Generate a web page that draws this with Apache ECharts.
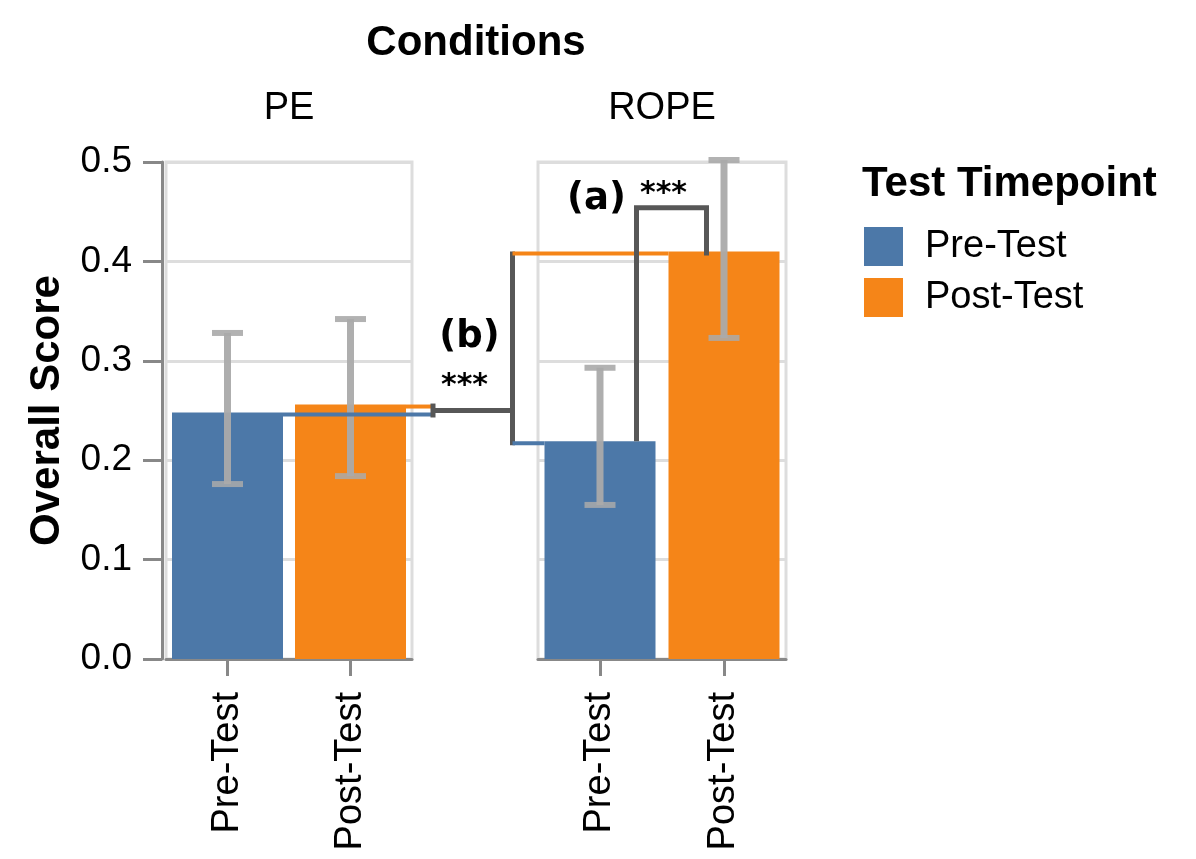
<!DOCTYPE html>
<html>
<head>
<meta charset="utf-8">
<script src="https://cdn.jsdelivr.net/npm/echarts@6/dist/echarts.min.js"></script>
<style>
html,body{margin:0;padding:0;background:#fff;}
#chart{width:1196px;height:859px;}
</style>
</head>
<body>
<div id="chart"></div>
<script>
// ---- data ----
const conditions = ['PE', 'ROPE'];
const timepoints = ['Pre-Test', 'Post-Test'];
const preMean = [0.248, 0.219];
const postMean = [0.256, 0.410];
const preCILow = [0.176, 0.155];
const preCIHigh = [0.328, 0.293];
const postCILow = [0.184, 0.323];
const postCIHigh = [0.342, 0.502];
const yMin = 0, yMax = 0.5, yStep = 0.1;
const bracketALevel = 0.454;
const sigLabels = ['(a)', '(b)'];
const sigStars = '***';

// ---- style ----
const FONT = '"Liberation Sans", Arial, sans-serif';
const BLUE = '#4c78a8', ORANGE = '#f58518', DARK = '#575757', ERR = '#aaaaaa';
const BAR_W = 111;
const grids = [
  {left: 166, top: 162, width: 246, height: 497},
  {left: 538, top: 162, width: 248, height: 497}
];

const chart = echarts.init(document.getElementById('chart'), null, {renderer: 'canvas'});

const xAxes = [], yAxes = [], series = [];
conditions.forEach((c, i) => {
  xAxes.push({
    type: 'category', gridIndex: i, data: timepoints, offset: 4,
    axisLine: {show: true, lineStyle: {color: '#888', width: 3}},
    axisTick: {show: true, interval: 0, alignWithLabel: true, length: 17,
      lineStyle: {color: '#888', width: 3}},
    axisLabel: {rotate: 90, interval: 0, fontSize: 38, color: '#000', fontFamily: FONT, margin: 29},
    splitLine: {show: false}
  });
  yAxes.push({
    type: 'value', gridIndex: i, min: yMin, max: yMax, interval: yStep,
    offset: i === 0 ? 4 : 0,
    axisLine: {show: i === 0, lineStyle: {color: '#888', width: 3}},
    axisTick: {show: i === 0, length: 19, lineStyle: {color: '#888', width: 3}},
    axisLabel: {show: i === 0, fontSize: 37, color: '#000', fontFamily: FONT, margin: 30,
      formatter: v => v.toFixed(1)},
    splitLine: {show: true, lineStyle: {color: '#dddddd', width: 3}},
    name: i === 0 ? 'Overall Score' : '',
    nameLocation: 'middle', nameRotate: 90, nameGap: 94,
    nameTextStyle: {fontSize: 42, fontWeight: 'bold', color: '#000', fontFamily: FONT}
  });
  series.push({
    type: 'bar', name: timepoints[0], xAxisIndex: i, yAxisIndex: i,
    data: [preMean[i], '-'], barWidth: BAR_W, barGap: '-100%',
    itemStyle: {color: BLUE}, z: 2
  });
  series.push({
    type: 'bar', name: timepoints[1], xAxisIndex: i, yAxisIndex: i,
    data: ['-', postMean[i]], barWidth: BAR_W, barGap: '-100%',
    itemStyle: {color: ORANGE}, z: 2
  });
  series.push({
    type: 'custom', name: 'ci', xAxisIndex: i, yAxisIndex: i, clip: false, z: 5,
    encode: {x: 0, y: [1, 2]},
    data: [[0, preCILow[i], preCIHigh[i]], [1, postCILow[i], postCIHigh[i]]],
    renderItem: function (params, api) {
      const lo = api.coord([api.value(0), api.value(1)]);
      const hi = api.coord([api.value(0), api.value(2)]);
      const cap = 31, w = 7;
      return {
        type: 'group',
        children: [
          {type: 'line', shape: {x1: lo[0], y1: lo[1], x2: hi[0], y2: hi[1]},
           style: {stroke: ERR, lineWidth: w, opacity: 0.95}},
          {type: 'line', shape: {x1: hi[0] - cap / 2, y1: hi[1], x2: hi[0] + cap / 2, y2: hi[1]},
           style: {stroke: ERR, lineWidth: 6, opacity: 0.9}},
          {type: 'line', shape: {x1: lo[0] - cap / 2, y1: lo[1], x2: lo[0] + cap / 2, y2: lo[1]},
           style: {stroke: ERR, lineWidth: 6, opacity: 0.85}}
        ]
      };
    }
  });
});

chart.setOption({
  animation: false,
  backgroundColor: '#fff',
  grid: grids.map(g => Object.assign({show: true, borderColor: '#dddddd', borderWidth: 3,
    backgroundColor: 'transparent'}, g)),
  xAxis: xAxes,
  yAxis: yAxes,
  legend: {
    data: timepoints, orient: 'vertical', left: 859, top: 222,
    itemWidth: 39, itemHeight: 39, itemGap: 12, icon: 'rect', selectedMode: false,
    textStyle: {fontSize: 38, color: '#000', fontFamily: FONT, padding: [0, 0, 0, 17]}
  },
  series: series
});

// ---- headers and annotations (positions from the library's scales) ----
const px = (g, cat, v) => chart.convertToPixel({gridIndex: g}, [cat, v]);
const hb = BAR_W / 2;
const LW = 4;

const pePre = px(0, 0, preMean[0]);
const pePost = px(0, 1, postMean[0]);
const roPre = px(1, 0, preMean[1]);
const roPost = px(1, 1, postMean[1]);
const aTop = px(1, 0, bracketALevel)[1];

const peCenter = px(0, 0, yMax)[0] / 2 + px(0, 1, yMax)[0] / 2;
const roCenter = px(1, 0, yMax)[0] / 2 + px(1, 1, yMax)[0] / 2;

const yBluePE = pePre[1] + LW / 2, yOrPE = pePost[1] + LW / 2;
const yBlueRO = roPre[1] + LW / 2, yOrRO = roPost[1] + LW / 2;
const xb1 = pePost[0] + hb + 27;
const xb2 = roPre[0] - hb - 32;
const yMid = (yBluePE + yOrPE) / 2;
const xa1 = roPre[0] + hb - 19;
const xa2 = roPost[0] - hb + 38;

function line(x1, y1, x2, y2, color, w) {
  return {type: 'line', z: 50, shape: {x1, y1, x2, y2}, style: {stroke: color, lineWidth: w}};
}
function text(t, x, y, font, align, extra) {
  return Object.assign({type: 'text', z: 60, x: x, y: y,
    style: {text: t, font: font, fill: '#000', textAlign: align, align: align,
      textVerticalAlign: 'middle', verticalAlign: 'middle'}}, extra || {});
}

const titleFont = 'bold 42px ' + FONT;
const headFont = '38px ' + FONT;
const annFont = 'bold 37px "DejaVu Sans", sans-serif';
const starFont = 'bold 30px "DejaVu Sans", sans-serif';

const graphics = [
  text('Conditions', (grids[0].left + grids[1].left + grids[1].width) / 2, 43, titleFont, 'center'),
  text(conditions[0], peCenter, 109, headFont, 'center'),
  text(conditions[1], roCenter, 109, headFont, 'center'),
  text('Test Timepoint', 862, 184, titleFont, 'left'),
  // bracket (b)
  line(pePre[0] + hb, yBluePE, xb1, yBluePE, BLUE, LW),
  line(pePost[0] + hb, yOrPE, xb1, yOrPE, ORANGE, LW),
  line(xb1, yOrPE - 3, xb1, yBluePE + 3, DARK, 5),
  line(xb1, yMid, xb2, yMid, DARK, 5),
  line(xb2, yOrRO - 2, xb2, yBlueRO + 2, DARK, 5),
  line(xb2, yOrRO, roPost[0] - hb, yOrRO, ORANGE, LW),
  line(xb2, yBlueRO, roPre[0] - hb, yBlueRO, BLUE, LW),
  // bracket (a)
  {type: 'polyline', z: 50, shape: {points: [[xa1, roPre[1]], [xa1, aTop], [xa2, aTop], [xa2, yOrRO + 2]]},
   style: {stroke: DARK, lineWidth: 5, fill: null}},
  text(sigLabels[0], xa1 - 40, aTop - 8, annFont, 'center'),
  text(sigStars, (xa1 + xa2) / 2 - 8, aTop - 14, starFont, 'center'),
  text(sigLabels[1], xb2 - 43, yMid - 73, annFont, 'center'),
  text(sigStars, xb2 - 48, yMid - 24, starFont, 'center')
];

chart.setOption({graphic: graphics});
</script>
</body>
</html>
